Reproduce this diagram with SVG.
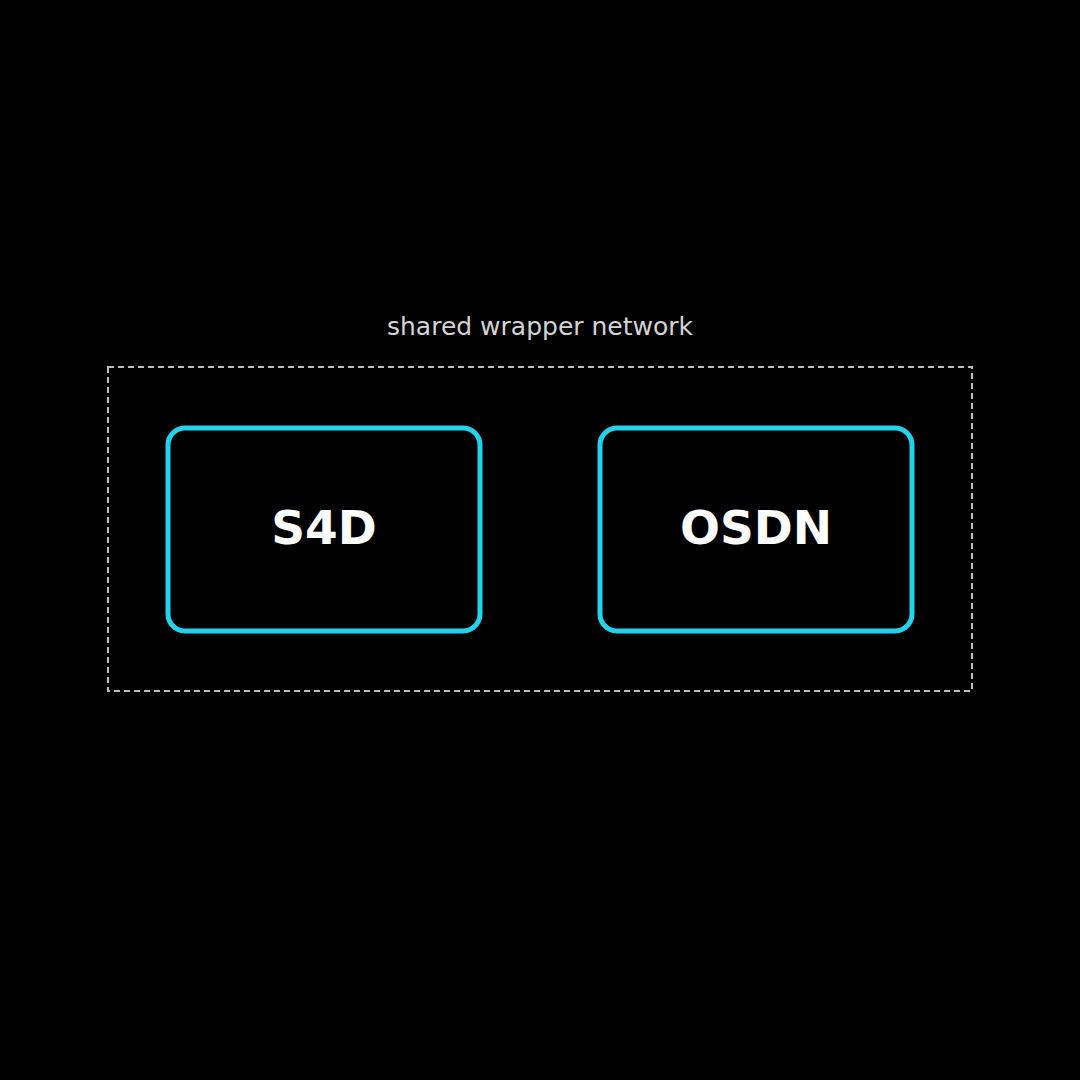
<svg xmlns="http://www.w3.org/2000/svg" width="1080" height="1080" viewBox="0 0 1080 1080">
<style>
.node{fill:#000;stroke:#22d3ee;stroke-width:5}
.label{font-family:"DejaVu Sans",sans-serif;font-weight:bold;font-size:47px;fill:#fff;text-anchor:middle}
.title{font-family:"DejaVu Sans",sans-serif;font-size:25px;fill:#d4d4d4;text-anchor:middle}
.group{fill:none;stroke:#bdbdbd;stroke-width:2;stroke-dasharray:6 4}
</style>
<rect width="1080" height="1080" fill="#000"/>
<g id="wrapper">
<text class="title" x="540" y="335">shared wrapper network</text>
<rect class="group" x="108" y="367" width="864" height="324"/>
</g>
<g id="connectors"></g>
<g id="s4d">
<rect class="node" x="168" y="428" width="312" height="203" rx="17"/>
<text class="label" x="324" y="544">S4D</text>
</g>
<g id="osdn">
<rect class="node" x="600" y="428" width="312" height="203" rx="17"/>
<text class="label" x="756" y="544">OSDN</text>
</g>
</svg>
